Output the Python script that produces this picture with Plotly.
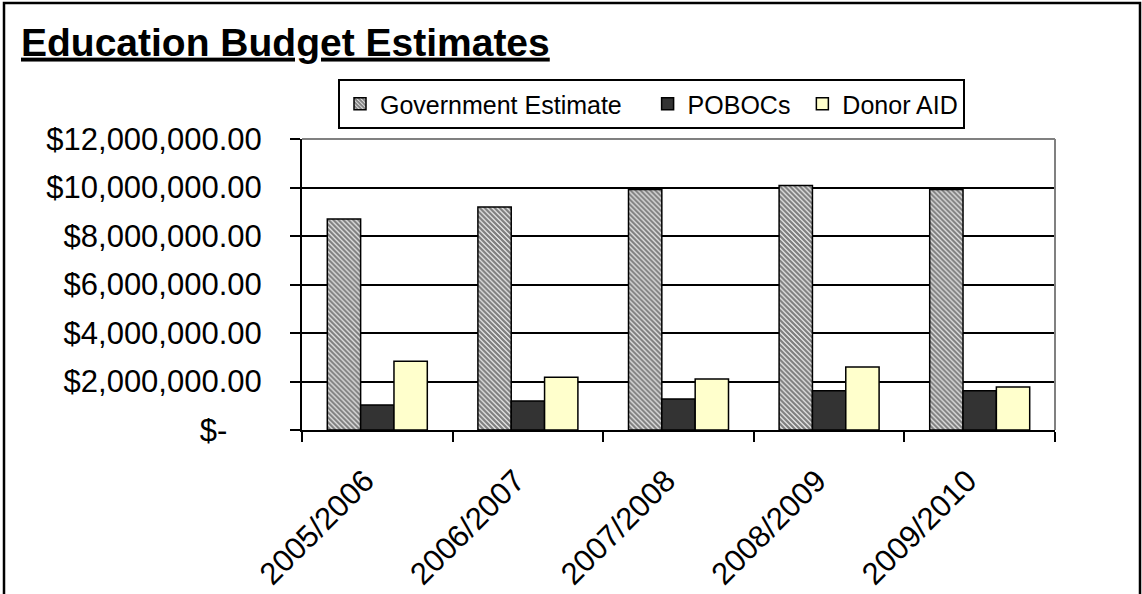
import plotly.graph_objects as go

# ---- data ----
categories = ["2005/2006", "2006/2007", "2007/2008", "2008/2009", "2009/2010"]
gov_estimate = [8700000, 9200000, 9920000, 10080000, 9920000]
pobocs = [1030000, 1200000, 1280000, 1620000, 1620000]
donor_aid = [2840000, 2180000, 2100000, 2600000, 1770000]
series_names = ["Government Estimate", "POBOCs", "Donor AID"]
y_tick_values = [0, 2000000, 4000000, 6000000, 8000000, 10000000, 12000000]
y_tick_labels = ["$-\u2007\u2007", "$2,000,000.00", "$4,000,000.00", "$6,000,000.00",
                 "$8,000,000.00", "$10,000,000.00", "$12,000,000.00"]
title_text = "Education Budget Estimates"

# ---- geometry (pixels) ----
W, H = 1142, 594
L, R, T, B = 302, 87, 139, 164
PW, PH = W - L - R, H - T - B


def px_x(px):
    return (px - L) / PW


def px_y(py):
    return (H - B - py) / PH


FONT = "Liberation Sans, Arial, sans-serif"

fig = go.Figure()
fig.add_trace(go.Bar(
    x=categories, y=gov_estimate, name=series_names[0] + "\u00a0\u00a0\u00a0",
    marker=dict(color="white",
                pattern=dict(shape="\\", fgcolor="black", bgcolor="white", size=3.5, solidity=0.7),
                line=dict(color="black", width=1.5)),
))
fig.add_trace(go.Bar(
    x=categories, y=pobocs, name=series_names[1] + "\u00a0",
    marker=dict(color="#333333", line=dict(color="black", width=1.5)),
))
fig.add_trace(go.Bar(
    x=categories, y=donor_aid, name=series_names[2],
    marker=dict(color="#FFFFCC", line=dict(color="black", width=1.5)),
))

fig.update_layout(
    width=W, height=H, autosize=False,
    margin=dict(l=L, r=R, t=T, b=B, pad=0, autoexpand=False),
    paper_bgcolor="white", plot_bgcolor="white",
    font=dict(family=FONT, color="black", size=31),
    barmode="group", bargap=0.336, bargroupgap=0,
    showlegend=True,
    legend=dict(
        orientation="h", x=px_x(338), y=px_y(79), xanchor="left", yanchor="top",
        bgcolor="white", bordercolor="black", borderwidth=2,
        font=dict(family=FONT, size=25, color="black"),
        itemwidth=30, traceorder="normal",
    ),
    title=dict(
        text="<b><u>" + title_text + "</u></b>",
        font=dict(family=FONT, size=39, color="black"),
        xref="container", yref="container",
        x=21 / W, xanchor="left", y=1 - 42 / H, yanchor="middle",
    ),
    xaxis=dict(
        type="category", showgrid=False, showline=True, linecolor="black", linewidth=2,
        ticks="outside", tickson="boundaries", ticklen=10, tickwidth=2, tickcolor="black",
        tickangle=-45, tickfont=dict(family=FONT, size=31, color="black"),
        tickvals=categories, ticktext=[c + "\u2007" for c in categories],
        ticklabelstandoff=6, zeroline=False, fixedrange=True, automargin=False,
    ),
    yaxis=dict(
        range=[0, 12000000], tickvals=y_tick_values, ticktext=y_tick_labels,
        showgrid=True, gridcolor="black", gridwidth=2,
        showline=True, linecolor="black", linewidth=2,
        ticks="outside", ticklen=10, tickwidth=2, tickcolor="black",
        tickfont=dict(family=FONT, size=31, color="black"),
        ticklabelstandoff=22, zeroline=False, fixedrange=True, automargin=False,
    ),
    shapes=[
        # gray plot-area frame (top and right)
        dict(type="line", xref="paper", yref="paper", x0=0, x1=1, y0=1, y1=1,
             line=dict(color="#808080", width=2), layer="above"),
        dict(type="line", xref="paper", yref="paper", x0=1, x1=1, y0=0, y1=1,
             line=dict(color="#808080", width=2), layer="above"),
        # outer chart border
        dict(type="rect", xref="paper", yref="paper",
             x0=px_x(4), x1=px_x(1140), y0=px_y(630), y1=px_y(3),
             line=dict(color="black", width=2.5), fillcolor="rgba(0,0,0,0)", layer="above"),
    ],
)

fig.write_html("out.html", config={"displayModeBar": False},
               post_script="document.body.style.margin='0';document.body.style.overflow='hidden';")
